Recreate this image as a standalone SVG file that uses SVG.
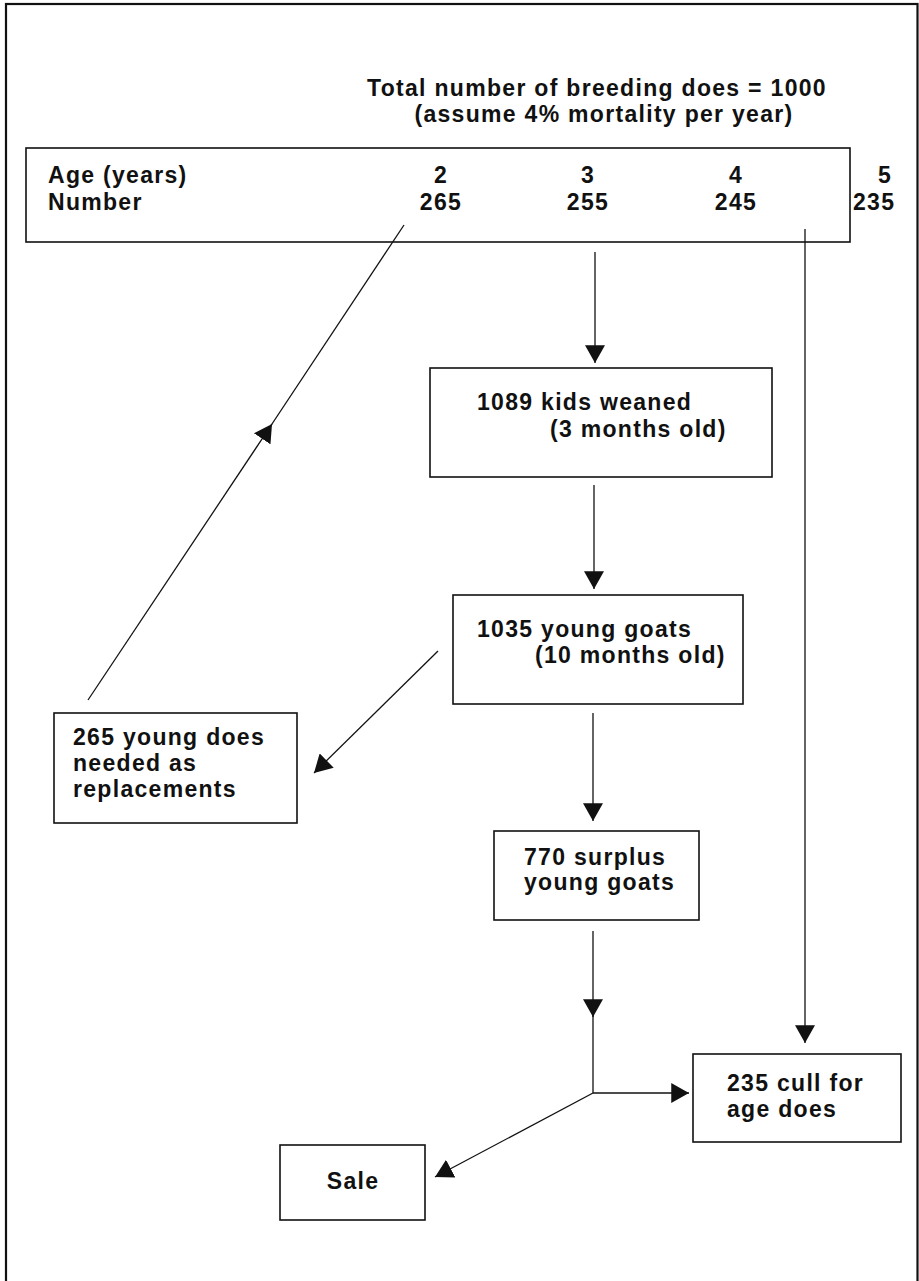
<svg xmlns="http://www.w3.org/2000/svg" width="919" height="1281" viewBox="0 0 919 1281">
<style>
  text { font-family: "Liberation Sans", Arial, sans-serif; font-weight: bold; font-size: 23px; letter-spacing: 1.3px; fill: #111; }
  .box { fill: none; stroke: #111; stroke-width: 1.6; }
  .con { fill: none; stroke: #111; stroke-width: 1.3; }
  .mid { text-anchor: middle; }
</style>
<defs>
  <marker id="ah" markerUnits="userSpaceOnUse" markerWidth="18" markerHeight="20" viewBox="0 0 16 18" refX="16" refY="9" orient="auto">
    <path d="M0,0 L16,9 L0,18 Z" fill="#111"/>
  </marker>
</defs>
<rect x="0" y="0" width="919" height="1281" fill="#fff"/>
<rect x="6" y="4" width="911.5" height="1290" fill="none" stroke="#111" stroke-width="2.2"/>

<g id="title">
  <text x="597" y="96" class="mid">Total number of breeding does = 1000</text>
  <text x="604" y="122" class="mid">(assume 4% mortality per year)</text>
</g>

<g id="age-table">
  <rect class="box" x="26" y="148" width="824" height="94"/>
  <text x="48" y="183">Age (years)</text>
  <text x="48" y="210">Number</text>
  <text x="441" y="183" class="mid">2</text>
  <text x="441" y="210" class="mid">265</text>
  <text x="588" y="183" class="mid">3</text>
  <text x="588" y="210" class="mid">255</text>
  <text x="736" y="183" class="mid">4</text>
  <text x="736" y="210" class="mid">245</text>
  <text x="885" y="183" class="mid">5</text>
  <text x="853" y="210">235</text>
</g>

<g id="kids-weaned">
  <rect class="box" x="430" y="368" width="342" height="109"/>
  <text x="477" y="410">1089 kids weaned</text>
  <text x="550" y="437">(3 months old)</text>
</g>

<g id="young-goats">
  <rect class="box" x="453" y="595" width="290" height="109"/>
  <text x="477" y="637">1035 young goats</text>
  <text x="535" y="663">(10 months old)</text>
</g>

<g id="replacements">
  <rect class="box" x="54" y="713" width="243" height="110"/>
  <text x="73" y="745">265 young does</text>
  <text x="73" y="771">needed as</text>
  <text x="73" y="797">replacements</text>
</g>

<g id="surplus">
  <rect class="box" x="494" y="831" width="205" height="89"/>
  <text x="524" y="865">770 surplus</text>
  <text x="524" y="890">young goats</text>
</g>

<g id="cull">
  <rect class="box" x="693" y="1054" width="208" height="88"/>
  <text x="727" y="1091">235 cull for</text>
  <text x="727" y="1117">age does</text>
</g>

<g id="sale">
  <rect class="box" x="280" y="1145" width="145" height="75"/>
  <text x="353" y="1189" class="mid">Sale</text>
</g>

<g id="connectors">
  <line class="con" x1="595" y1="252" x2="595" y2="363" marker-end="url(#ah)"/>
  <line class="con" x1="594" y1="485" x2="594" y2="589" marker-end="url(#ah)"/>
  <line class="con" x1="593" y1="713" x2="593" y2="821" marker-end="url(#ah)"/>
  <line class="con" x1="593" y1="931" x2="593" y2="1017" marker-end="url(#ah)"/>
  <line class="con" x1="593" y1="1012" x2="593" y2="1093"/>
  <line class="con" x1="593" y1="1093" x2="689" y2="1093" marker-end="url(#ah)"/>
  <line class="con" x1="593" y1="1093" x2="435" y2="1177" marker-end="url(#ah)"/>
  <line class="con" x1="805" y1="229" x2="805" y2="1043" marker-end="url(#ah)"/>
  <line class="con" x1="438" y1="651" x2="314" y2="773" marker-end="url(#ah)"/>
  <line class="con" x1="88" y1="700" x2="272" y2="424" marker-end="url(#ah)"/>
  <line class="con" x1="266" y1="433" x2="404" y2="225"/>
</g>
</svg>
